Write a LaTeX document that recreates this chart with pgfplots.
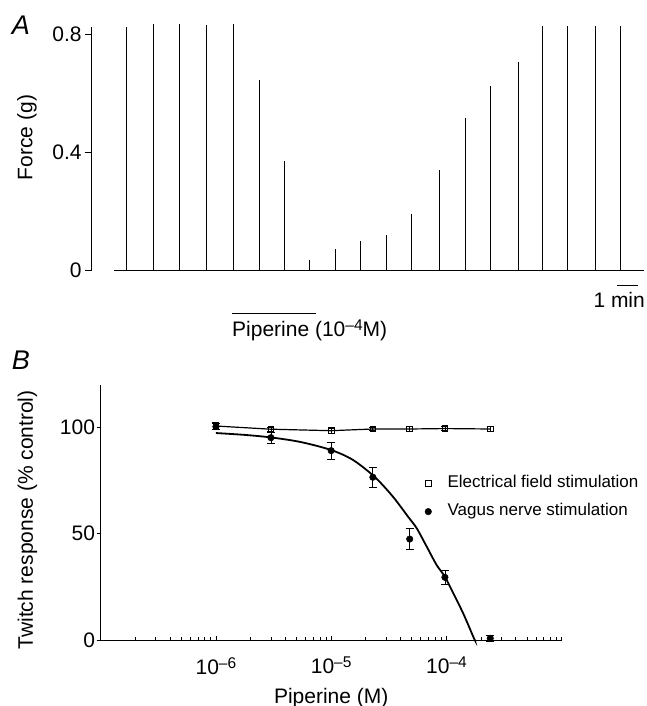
\documentclass[border=0pt]{standalone}
\usepackage{fontspec}
\setmainfont{Liberation Sans}
\usepackage{pgfplots}
\pgfplotsset{compat=1.18}
\newcommand\mainsize{\fontsize{21}{25}\selectfont}
\newcommand\legsize{\fontsize{17}{20}\selectfont}
\newcommand\sups[1]{\raisebox{6pt}{\fontsize{15.5}{16}\selectfont #1}}
\begin{document}
\begin{tikzpicture}[x=1pt,y=1pt]
\useasboundingbox (0,0) rectangle (646,-706);
\node[font=\fontsize{27}{30}\selectfont\itshape] at (21,-25) {A};
\node[font=\fontsize{27}{30}\selectfont\itshape] at (21,-360) {B};

% panel A: force trace
\begin{axis}[
  at={(91.7pt,-270pt)}, anchor=south west,
  scale only axis, width=554.4pt, height=243pt,
  xmin=0, xmax=26.4, ymin=0, ymax=0.825,
  axis x line=none, axis y line*=left,
  axis line style={-, line width=1pt},
  ytick={0,0.4,0.8}, tick align=outside, major tick length=6.5pt,
  tick style={line width=1pt, black},
  yticklabel style={font=\mainsize, /pgf/number format/assume math mode=true},
  ylabel={Force (g)},
  ylabel style={font=\mainsize, at={(axis description cs:-0.117,0.545)}, anchor=center},
  clip=false,
]
\addplot[ycomb, black, line width=1pt, no marks] coordinates {
  (1.68,0.824) (2.92,0.836) (4.20,0.836) (5.49,0.833) (6.73,0.836)
  (7.97,0.646) (9.20,0.369) (10.39,0.033) (11.63,0.070) (12.82,0.098)
  (14.06,0.118) (15.25,0.191) (16.54,0.341) (17.82,0.516) (19.01,0.626)
  (20.30,0.705) (21.49,0.830) (22.68,0.830) (23.97,0.827) (25.16,0.830)};
\addplot[black, line width=1pt, no marks] coordinates {(1.08,0) (26.3,0)};
\draw[line width=1.2pt] (axis cs:25.02,-0.052) -- (axis cs:26.02,-0.052);
\node[anchor=base east, inner sep=0pt, font=\mainsize] at (axis cs:26.35,-0.128) {1 min};
\draw[line width=1pt] (axis cs:6.68,-0.147) -- (axis cs:10.68,-0.147);
\node[anchor=base west, inner sep=0pt, font=\mainsize] at (axis cs:6.68,-0.227) {Piperine (10\sups{–4}M)};
\end{axis}

% panel B: concentration-response
\begin{axis}[
  at={(100.7pt,-640pt)}, anchor=south west,
  scale only axis, width=461pt, height=255pt,
  xmode=log, xmin=1e-7, xmax=1e-3, ymin=0, ymax=120,
  axis lines=left, axis line style={-, line width=0.8pt},
  xtick={1e-6,1e-5,1e-4},
  xticklabels={10\sups{–6},10\sups{–5},10\sups{–4}},
  minor xtick={2e-7,3e-7,4e-7,5e-7,6e-7,7e-7,8e-7,9e-7,
    2e-6,3e-6,4e-6,5e-6,6e-6,7e-6,8e-6,9e-6,
    2e-5,3e-5,4e-5,5e-5,6e-5,7e-5,8e-5,9e-5,
    2e-4,3e-4,4e-4,5e-4,6e-4,7e-4,8e-4,9e-4,1e-3},
  ytick={0,50,100},
  tick align=inside, major tick length=4pt, minor tick length=3pt,
  tick style={line width=0.8pt, black},
  y tick style={xshift=-4pt},
  yticklabel style={font=\mainsize, inner sep=0pt, xshift=-5.5pt, /pgf/number format/assume math mode=true},
  xticklabel style={font=\mainsize, inner sep=0pt, anchor=north, yshift=-17pt},
  xlabel={Piperine (M)},
  xlabel style={font=\mainsize, at={(axis description cs:0.5,0)}, anchor=base, yshift=-63pt},
  ylabel={Twitch response (\% control)},
  ylabel style={font=\mainsize, at={(axis description cs:-0.159,0.471)}, anchor=center},
  legend cell align=left,
  legend image code/.code={\draw[#1] plot coordinates {(0pt,0pt)};},
  legend style={draw=none, fill=none, font=\legsize, inner sep=0pt,
    at={(axis description cs:0.703,0.647)}, anchor=north west,
    row sep=12.4pt, column sep=16pt,
    nodes={inner sep=0pt, text height=12pt, text depth=4pt}},
  clip=false,
]
\addplot[black, line width=1.2pt, mark=square, mark size=2.9pt,
  mark options={solid, fill=white, line width=0.8pt},
  error bars/.cd, y dir=both, y explicit,
  error bar style={line width=0.8pt}, error mark options={rotate=90, mark size=3.5pt, line width=0.8pt}]
  coordinates {
  (1e-6,100.7) +- (0,1.5)
  (3e-6,99.2) +- (0,1.0)
  (1e-5,98.5) +- (0,1.2)
  (2.3e-5,99.3) +- (0,0.8)
  (4.8e-5,99.3) +- (0,1.0)
  (9.7e-5,99.5) +- (0,0.8)
  (2.4e-4,99.3) +- (0,1.0)};
\addlegendentry{Electrical field stimulation}
\addplot[only marks, black, mark=*, mark size=3.3pt,
  error bars/.cd, y dir=both, y explicit,
  error bar style={line width=0.8pt}, error mark options={rotate=90, mark size=4pt, line width=0.8pt}]
  coordinates {
  (1e-6,100.4) +- (0,1.5)
  (3e-6,95.2) +- (0,2.5)
  (1e-5,89.1) +- (0,3.9)
  (2.3e-5,76.6) +- (0,4.7)
  (4.8e-5,47.5) +- (0,5.0)
  (9.7e-5,29.5) +- (0,3.1)
  (2.4e-4,0.8) +- (0,1.5)};
\addlegendentry{Vagus nerve stimulation}
\addplot[forget plot, black, line width=1.8pt, no marks, smooth] coordinates {
  (1.0e-6,97.4) (1.8e-6,96.5) (3.03e-6,95.3) (5.4e-6,93.2) (1.0e-5,89.4)
  (1.55e-5,84.7) (2.4e-5,76.6) (3.44e-5,67.4) (4.65e-5,58.0) (5.52e-5,52.6)
  (6.75e-5,43.9) (8.22e-5,35.3) (9.7e-5,29.8) (1.146e-4,22.0) (1.396e-4,12.6)
  (1.73e-4,0.9) (1.766e-4,0)};
\end{axis}
\end{tikzpicture}
\end{document}
